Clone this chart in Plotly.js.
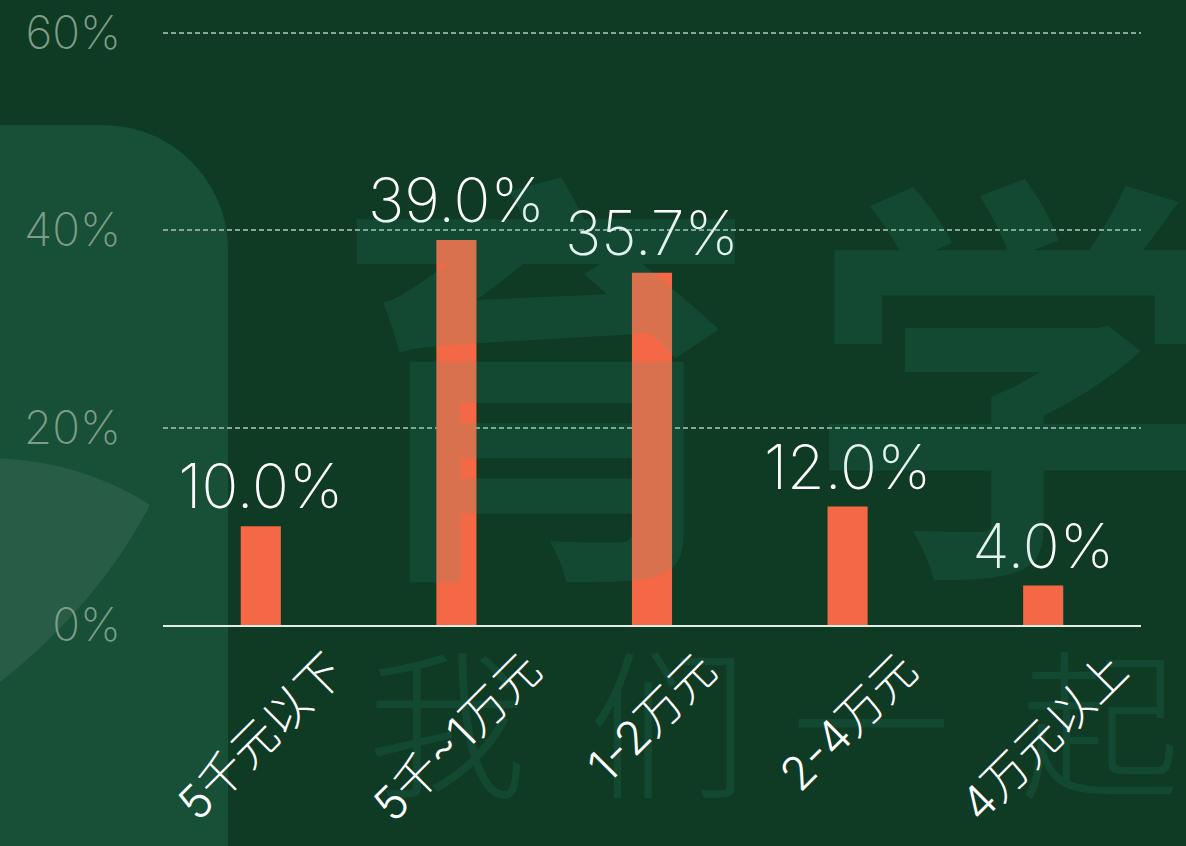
<!DOCTYPE html>
<html><head><meta charset="utf-8">
<script src="https://cdn.plot.ly/plotly-3.0.1.min.js"></script>
<style>html,body{margin:0;padding:0;background:#0F3A24;}#chart{width:1186px;height:846px;}</style>
</head><body><div id="chart"></div>
<script>
const categories = ['5千元以下', '5千~1万元', '1-2万元', '2-4万元', '4万元以上'];
const shares = [10.0, 39.0, 35.7, 12.0, 4.0];
const yTickVals = [0, 20, 40, 60];
const yTickText = ['0%', '20%', '40%', '60%'];
const watermarkTop = ['育', '学'];
const watermarkBottom = ['我', '们', '一', '起'];

const W = 1186, H = 846, ML = 163, MR = 45, MT = 23, MB = 221;
const PW = W - ML - MR, PH = H - MT - MB;
const px = x => (x - ML) / PW;
const py = y => (H - MB - y) / PH;
const P = (x, y) => px(x).toFixed(4) + ',' + py(y).toFixed(4);

const latin = 'Inter, "Noto Sans CJK SC", sans-serif';
const cjk = '"Noto Sans CJK SC", Inter, sans-serif';
const wmColor = 'rgba(50,170,140,0.14)';

const shapes = [
  { type: 'path', xref: 'paper', yref: 'paper', layer: 'below', line: { width: 0 },
    fillcolor: '#174F37',
    path: 'M ' + P(-30, 870) + ' L ' + P(-30, 125) + ' L ' + P(103, 125) +
          ' C ' + P(172, 125) + ' ' + P(228, 181) + ' ' + P(228, 250) +
          ' L ' + P(228, 870) + ' Z' },
  { type: 'path', xref: 'paper', yref: 'paper', layer: 'below', line: { width: 0 },
    fillcolor: 'rgba(255,255,255,0.08)',
    path: 'M ' + P(-10, 458) + ' Q ' + P(80, 460) + ' ' + P(150, 505) +
          ' Q ' + P(95, 610) + ' ' + P(-10, 690) + ' Z' }
];

const annotations = [];
const topX = [545, 1018];
watermarkTop.forEach((ch, i) => annotations.push({
  text: ch, xref: 'paper', yref: 'paper', x: px(topX[i]), y: py(358),
  xanchor: 'center', yanchor: 'middle', showarrow: false,
  font: { family: cjk, size: 425, color: wmColor, weight: 700 }
}));
const botX = [447, 668, 871, 1100];
watermarkBottom.forEach((ch, i) => annotations.push({
  text: ch, xref: 'paper', yref: 'paper', x: px(botX[i]), y: py(716),
  xanchor: 'center', yanchor: 'middle', showarrow: false,
  font: { family: cjk, size: 160, color: wmColor, weight: 300 }
}));
categories.forEach(c => annotations.push({
  text: c, xref: 'x', yref: 'y', x: c, y: 0, xanchor: 'center', yanchor: 'top',
  yshift: -14, textangle: -45, showarrow: false,
  font: { family: latin, size: 46, color: '#FFFFFF', weight: 300 }
}));

const trace = {
  type: 'bar', x: categories, y: shares,
  marker: { color: '#F56845' },
  texttemplate: '%{y:.1f}%', textposition: 'outside', constraintext: 'none',
  cliponaxis: false,
  textfont: { family: latin, size: 61, color: '#FFFFFF', weight: 200 },
  hoverinfo: 'skip'
};

const layout = {
  width: W, height: H,
  margin: { l: ML, r: MR, t: MT, b: MB, pad: 0 },
  paper_bgcolor: '#0F3A24', plot_bgcolor: 'rgba(0,0,0,0)',
  showlegend: false, bargap: 0.795,
  xaxis: { type: 'category', range: [-0.5, 4.5], showticklabels: false, ticks: '',
    showline: true, linecolor: '#E4ECE6', linewidth: 2, showgrid: false, zeroline: false, fixedrange: true },
  yaxis: { range: [0, 61], tickvals: yTickVals, ticktext: yTickText, ticks: '',
    tickfont: { family: latin, size: 46, color: '#7F9C8B', weight: 200 },
    ticklabelstandoff: 41,
    showgrid: true, gridcolor: '#8AA697', gridwidth: 2, griddash: '5px,3px',
    zeroline: false, showline: false, fixedrange: true },
  shapes: shapes, annotations: annotations
};

Plotly.newPlot('chart', [trace], layout, { displayModeBar: false, staticPlot: true });
</script></body></html>
